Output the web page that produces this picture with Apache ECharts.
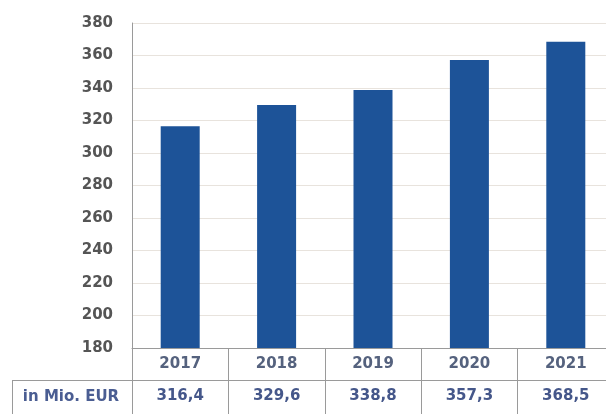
<!DOCTYPE html>
<html>
<head>
<meta charset="utf-8">
<script src="https://cdn.jsdelivr.net/npm/echarts@6/dist/echarts.min.js"></script>
<style>
html,body{margin:0;padding:0;background:#fff;}
#chart{width:606px;height:414px;}
</style>
</head>
<body>
<div id="chart"></div>
<script>
const years = ['2017', '2018', '2019', '2020', '2021'];
const values = [316.4, 329.6, 338.8, 357.3, 368.5];
const rowLabel = 'in Mio. EUR';
const yMin = 180, yMax = 380, yStep = 20;

const FONT = '"DejaVu Sans", sans-serif';
const chart = echarts.init(document.getElementById('chart'), null, {renderer: 'canvas'});
const fmt = v => v.toFixed(1).replace('.', ',');
const gridLeft = 132, gridTop = 23, gridH = 325, gridW = 482;
const lineCol = '#9a9a9a';

chart.setOption({
  animation: false,
  backgroundColor: '#ffffff',
  grid: {left: gridLeft, top: gridTop, width: gridW, height: gridH, outerBoundsMode: 'none', containLabel: false},
  xAxis: [
    {
      type: 'category', data: years, position: 'bottom',
      axisLine: {show: true, lineStyle: {color: lineCol, width: 1}},
      axisTick: {show: true, length: 66, lineStyle: {color: lineCol, width: 1}},
      axisLabel: {margin: 9, color: '#55627e', fontFamily: FONT, fontWeight: 'bold', fontSize: 15}
    },
    {
      type: 'category', data: years, position: 'bottom', offset: 32,
      axisLine: {show: true, lineStyle: {color: lineCol, width: 1}},
      axisTick: {show: false},
      axisLabel: {margin: 9, color: '#45578a', fontFamily: FONT, fontWeight: 'bold', fontSize: 15,
        formatter: (v, i) => fmt(values[i])}
    }
  ],
  yAxis: {
    type: 'value', min: yMin, max: yMax, interval: yStep,
    axisLine: {show: true, lineStyle: {color: lineCol, width: 1}},
    axisTick: {show: false},
    axisLabel: {margin: 19, color: '#555555', fontFamily: FONT, fontWeight: 'bold', fontSize: 15},
    splitLine: {lineStyle: {color: '#e8e3dd', width: 1}}
  },
  series: [{
    type: 'bar', data: values, barWidth: 39,
    itemStyle: {color: '#1d5398'}
  }],
  graphic: [
    {type: 'line', shape: {x1: 12, y1: 380.5, x2: gridLeft, y2: 380.5}, style: {stroke: lineCol, lineWidth: 1}},
    {type: 'line', shape: {x1: 12.5, y1: 380, x2: 12.5, y2: 414}, style: {stroke: lineCol, lineWidth: 1}},
    {type: 'text', x: 71, y: 397, style: {text: rowLabel, fill: '#4a5d92', font: 'bold 15px ' + FONT, align: 'center', verticalAlign: 'middle'}}
  ]
});
</script>
</body>
</html>
